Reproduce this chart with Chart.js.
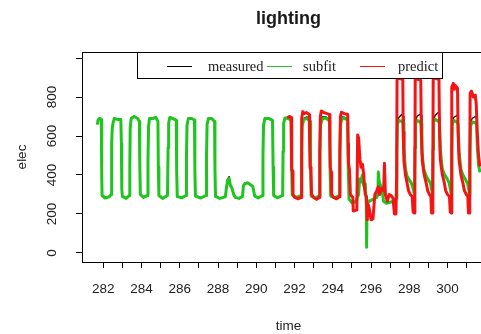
<!DOCTYPE html>
<html>
<head>
<meta charset="utf-8">
<script src="https://cdn.jsdelivr.net/npm/chart.js@4.4.0/dist/chart.umd.min.js"></script>
<style>
  html, body { margin: 0; padding: 0; overflow: hidden; background: #fff; }
  canvas { display: block; }
</style>
</head>
<body>
<canvas id="chart" width="500" height="334" style="width:500px;height:334px"></canvas>
<script>
// axis ticks
const xTicks = [282, 283, 284, 285, 286, 287, 288, 289, 290, 291, 292, 293, 294, 295, 296, 297, 298, 299, 300, 301];
const xLabels = ['282', '', '284', '', '286', '', '288', '', '290', '', '292', '', '294', '', '296', '', '298', '', '300', ''];
const yTicks = [0, 200, 400, 600, 800, 1000];
const yLabels = ['0', '200', '400', '600', '800', ''];

const legendNames = ['measured', 'subfit', 'predict'];

// time axis shared by measured and subfit
const time = [
  281.69, 281.72, 281.80, 281.90, 281.92, 281.94,
  282.10, 282.30, 282.42, 282.44, 282.47, 282.52, 282.58, 282.75, 282.92, 282.95, 282.97, 283.00,
  283.20, 283.37, 283.39, 283.41, 283.46, 283.62, 283.80, 283.89, 283.91, 283.94,
  284.10, 284.32, 284.34, 284.37, 284.42, 284.60, 284.75, 284.86, 284.88, 284.91,
  285.10, 285.36, 285.39, 285.42, 285.48, 285.65, 285.82, 285.84, 285.87,
  286.10, 286.33, 286.35, 286.38, 286.45, 286.62, 286.77, 286.79, 286.82,
  287.10, 287.38, 287.40, 287.43, 287.50, 287.66, 287.82, 287.84, 287.87,
  288.10, 288.38, 288.45, 288.50, 288.58, 288.65, 288.72, 288.82, 288.90,
  289.10, 289.28, 289.33, 289.40, 289.55, 289.70, 289.82, 289.92,
  290.10, 290.33, 290.35, 290.38, 290.45, 290.65, 290.85, 290.88, 290.91,
  291.10, 291.38, 291.40, 291.43, 291.50, 291.68, 291.83, 291.85, 291.88,
  292.10, 292.35, 292.37, 292.40, 292.48, 292.65, 292.82, 292.84, 292.87,
  293.10, 293.31, 293.33, 293.36, 293.45, 293.65, 293.84, 293.86, 293.89,
  294.10, 294.35, 294.37, 294.40, 294.48, 294.65, 294.78, 294.81, 294.85,
  295.00, 295.20, 295.35, 295.40, 295.45, 295.55, 295.62, 295.70, 295.75, 295.77, 295.79, 295.90,
  296.10, 296.30, 296.36, 296.38, 296.42, 296.50, 296.58, 296.65, 296.80, 297.00, 297.20, 297.33,
  297.35, 297.38, 297.45, 297.60, 297.68, 297.72, 297.80, 297.88, 297.96, 298.10, 298.20, 298.27,
  298.30, 298.33, 298.40, 298.55, 298.62, 298.66, 298.76, 298.86, 298.96, 299.10, 299.18, 299.22,
  299.24, 299.27, 299.35, 299.50, 299.58, 299.62, 299.72, 299.82, 299.95, 300.08, 300.16, 300.20,
  300.22, 300.25, 300.32, 300.48, 300.55, 300.60, 300.70, 300.80, 300.92, 301.05, 301.12, 301.15,
  301.17, 301.20, 301.28, 301.45, 301.52, 301.56, 301.62, 301.68
];

const subfit = [
  665, 680, 690, 685, 400, 295,
  282, 288, 300, 560, 640, 670, 690, 685, 685, 560, 330, 290,
  280, 295, 450, 640, 690, 700, 690, 675, 460, 300,
  285, 295, 480, 650, 690, 690, 695, 675, 440, 295,
  280, 295, 540, 665, 695, 690, 680, 420, 290,
  283, 295, 490, 655, 690, 690, 682, 430, 292,
  282, 295, 500, 660, 690, 690, 675, 430, 290,
  280, 288, 340, 372, 382, 345, 335, 300, 285,
  280, 290, 345, 355, 360, 350, 340, 292,
  282, 295, 500, 655, 690, 690, 680, 440, 295,
  283, 295, 520, 665, 692, 690, 680, 440, 298,
  285, 295, 500, 650, 685, 690, 675, 430, 292,
  282, 295, 510, 655, 688, 692, 675, 420, 292,
  283, 295, 500, 655, 690, 690, 680, 430, 275,
  258, 262, 300, 380, 362, 400, 345, 355, 250, 30, 270, 265,
  275, 285, 300, 415, 370, 345, 330, 265, 255, 260, 265, 280,
  520, 660, 680, 675, 668, 530, 430, 395, 380, 360, 330, 300,
  540, 665, 680, 672, 662, 520, 430, 400, 380, 360, 320, 300,
  530, 670, 685, 678, 665, 530, 435, 405, 385, 360, 320, 300,
  520, 660, 680, 672, 662, 520, 430, 400, 380, 355, 320, 300,
  520, 650, 672, 668, 658, 540, 450, 420
];

const measured = [
  668, 678, 692, 683, 405, 292,
  284, 286, 302, 570, 638, 672, 688, 687, 687, 555, 328, 292,
  282, 293, 455, 642, 693, 702, 688, 677, 456, 298,
  287, 293, 485, 652, 692, 688, 698, 673, 438, 297,
  281, 293, 545, 668, 697, 688, 682, 418, 292,
  281, 297, 488, 657, 688, 692, 680, 433, 290,
  284, 293, 505, 663, 692, 688, 677, 427, 288,
  282, 286, 345, 378, 392, 350, 332, 303, 283,
  282, 288, 350, 358, 362, 348, 343, 290,
  284, 293, 503, 658, 693, 688, 682, 436, 293,
  285, 293, 525, 667, 694, 695, 683, 438, 296,
  283, 293, 505, 655, 690, 698, 679, 428, 290,
  284, 297, 515, 660, 698, 698, 680, 422, 290,
  285, 293, 498, 660, 698, 695, 683, 435, 280,
  262, 266, 310, 372, 364, 390, 350, 352, 260, 40, 265, 262,
  278, 288, 305, 405, 372, 348, 334, 268, 258, 262, 268, 282,
  530, 670, 695, 710, 700, 540, 435, 398, 382, 362, 332, 302,
  550, 675, 700, 712, 705, 530, 435, 402, 383, 362, 322, 302,
  540, 680, 705, 720, 712, 540, 438, 408, 387, 362, 322, 302,
  530, 670, 695, 705, 700, 530, 434, 402, 382, 357, 322, 302,
  528, 660, 690, 700, 690, 550, 455, 422
];

const predictTime = [
  291.67, 291.75, 291.82, 291.84, 291.86, 291.89, 291.92,
  292.00, 292.20, 292.34, 292.36, 292.39, 292.43, 292.50, 292.62, 292.77, 292.79, 292.81, 292.86, 292.89,
  293.00, 293.15, 293.30, 293.32, 293.35, 293.40, 293.55, 293.70, 293.83, 293.85, 293.87, 293.91, 293.94,
  294.05, 294.20, 294.35, 294.37, 294.40, 294.45, 294.60, 294.78, 294.80, 294.82, 294.87, 294.92,
  295.00, 295.05, 295.07, 295.22, 295.26, 295.30, 295.35, 295.42, 295.48, 295.55, 295.62, 295.66, 295.70, 295.76, 295.80, 295.85, 295.92,
  296.00, 296.10, 296.20, 296.30, 296.38, 296.45, 296.55, 296.66, 296.70, 296.75, 296.85, 296.95,
  297.05, 297.15, 297.22, 297.30, 297.34, 297.36, 297.50, 297.66, 297.68, 297.72, 297.80, 297.88, 297.96,
  298.05, 298.15, 298.20, 298.27, 298.29, 298.31, 298.45, 298.60, 298.63, 298.68, 298.78, 298.88, 298.96,
  299.05, 299.13, 299.16, 299.21, 299.23, 299.25, 299.40, 299.55, 299.58, 299.62, 299.72, 299.82, 299.90,
  300.00, 300.10, 300.14, 300.19, 300.21, 300.23, 300.30, 300.36, 300.40, 300.52, 300.55, 300.60, 300.70, 300.80, 300.88, 300.98,
  301.06, 301.09, 301.14, 301.16, 301.18, 301.25, 301.35, 301.45, 301.50, 301.55, 301.62, 301.68
];

const predict = [
  697, 700, 695, 560, 430, 420, 300,
  285, 278, 285, 500, 690, 725, 715, 720, 710, 560, 440, 420, 300,
  285, 275, 285, 520, 700, 728, 720, 715, 710, 560, 440, 415, 300,
  285, 278, 288, 520, 700, 722, 715, 710, 560, 460, 430, 300,
  290, 285, 215, 220, 250, 605, 590, 480, 440, 455, 400, 330, 300, 290, 170, 250, 220,
  170, 175, 300, 320, 340, 300, 330, 320, 460, 300, 265, 300,
  295, 280, 200, 200, 400, 897, 895, 890, 620, 470, 400, 360, 320,
  300, 290, 210, 205, 420, 895, 890, 885, 620, 470, 400, 360, 320,
  300, 290, 205, 205, 420, 900, 895, 890, 630, 480, 405, 365, 320,
  300, 290, 210, 205, 400, 850, 870, 840, 860, 845, 620, 480, 400, 360, 320, 300,
  290, 205, 205, 400, 820, 830, 800, 810, 760, 620, 500, 450
];

const GREEN = '#1fc41f';
const RED = '#f51414';
const SANS = '"Liberation Sans", Arial, sans-serif';

function points(xs, ys) {
  return xs.map((x, i) => ({ x: x, y: ys[i] }));
}

// R-like box, rotated y labels and legend
const rFrame = {
  id: 'rFrame',
  afterDatasetsDraw(chart) {
    const { ctx, chartArea: a, scales: { y } } = chart;
    ctx.save();
    ctx.strokeStyle = '#000';
    ctx.lineWidth = 1;
    ctx.strokeRect(Math.round(a.left) + 0.5, Math.round(a.top) + 0.5, a.right - a.left, a.bottom - a.top);

    ctx.fillStyle = '#222';
    ctx.font = '13.5px ' + SANS;
    ctx.textAlign = 'center';
    ctx.textBaseline = 'middle';
    yTicks.forEach((v, i) => {
      if (!yLabels[i]) return;
      ctx.save();
      ctx.translate(a.left - 30, y.getPixelForValue(v));
      ctx.rotate(-Math.PI / 2);
      ctx.fillText(yLabels[i], 0, 0);
      ctx.restore();
    });

    // legend box at top
    const lx = Math.round(a.left) + 55, ly = Math.round(a.top), lw = 305, lh = 26;
    ctx.fillStyle = '#fff';
    ctx.fillRect(lx, ly, lw, lh);
    ctx.strokeStyle = '#000';
    ctx.strokeRect(lx + 0.5, ly + 0.5, lw, lh);
    const colors = ['#000', GREEN, RED];
    const lineX = [30, 130, 223];
    const textX = [71, 166, 261];
    ctx.font = '14.5px "Liberation Serif", "Times New Roman", serif';
    ctx.textAlign = 'left';
    legendNames.forEach((name, i) => {
      ctx.strokeStyle = colors[i];
      ctx.beginPath();
      ctx.moveTo(lx + lineX[i], ly + 14.5);
      ctx.lineTo(lx + lineX[i] + 25, ly + 14.5);
      ctx.stroke();
      ctx.fillStyle = '#222';
      ctx.fillText(name, lx + textX[i], ly + 15);
    });
    ctx.restore();
  }
};

new Chart(document.getElementById('chart').getContext('2d'), {
  type: 'line',
  data: {
    datasets: [
      { label: 'predict', data: points(predictTime, predict), borderColor: RED, borderWidth: 3, order: 0 },
      { label: 'subfit', data: points(time, subfit), borderColor: GREEN, borderWidth: 3, order: 1 },
      { label: 'measured', data: points(time, measured), borderColor: '#000', borderWidth: 1.3, order: 2 }
    ]
  },
  options: {
    responsive: false,
    animation: false,
    events: [],
    devicePixelRatio: 1,
    layout: { padding: { left: 0, right: 5, top: 0, bottom: 0 } },
    elements: {
      point: { radius: 0 },
      line: { tension: 0, fill: false, borderJoinStyle: 'round', borderCapStyle: 'round' }
    },
    plugins: {
      legend: { display: false },
      tooltip: { enabled: false },
      title: {
        display: true,
        text: 'lighting',
        fullSize: false,
        color: '#1a1a1a',
        font: { family: SANS, size: 18, weight: 'bold' },
        padding: { top: 8.2, bottom: 22.2 }
      }
    },
    scales: {
      x: {
        type: 'linear',
        min: 280.89,
        max: 302.48,
        afterBuildTicks: s => { s.ticks = xTicks.map(v => ({ value: v })); },
        afterFit: s => { s.height = 72; },
        ticks: {
          autoSkip: false,
          maxRotation: 0,
          padding: 13,
          color: '#222',
          font: { family: SANS, size: 13.5 },
          callback: (v, i) => xLabels[i]
        },
        grid: { drawOnChartArea: false, drawTicks: true, tickLength: 6, color: '#000' },
        border: { display: false },
        title: { display: true, text: 'time', color: '#222', font: { family: SANS, size: 13.5 }, padding: { top: 0, bottom: 0 } }
      },
      y: {
        type: 'linear',
        min: -46.2,
        max: 1030.8,
        afterBuildTicks: s => { s.ticks = yTicks.map(v => ({ value: v })); },
        afterFit: s => { s.width = 82; },
        ticks: { autoSkip: false, color: '#222', font: { family: SANS, size: 13 }, callback: () => '' },
        grid: { drawOnChartArea: false, drawTicks: true, tickLength: 6, color: '#000' },
        border: { display: false },
        title: { display: true, text: 'elec', color: '#222', font: { family: SANS, size: 13.5 }, padding: { top: 14, bottom: 0 } }
      }
    }
  },
  plugins: [rFrame]
});
</script>
</body>
</html>
